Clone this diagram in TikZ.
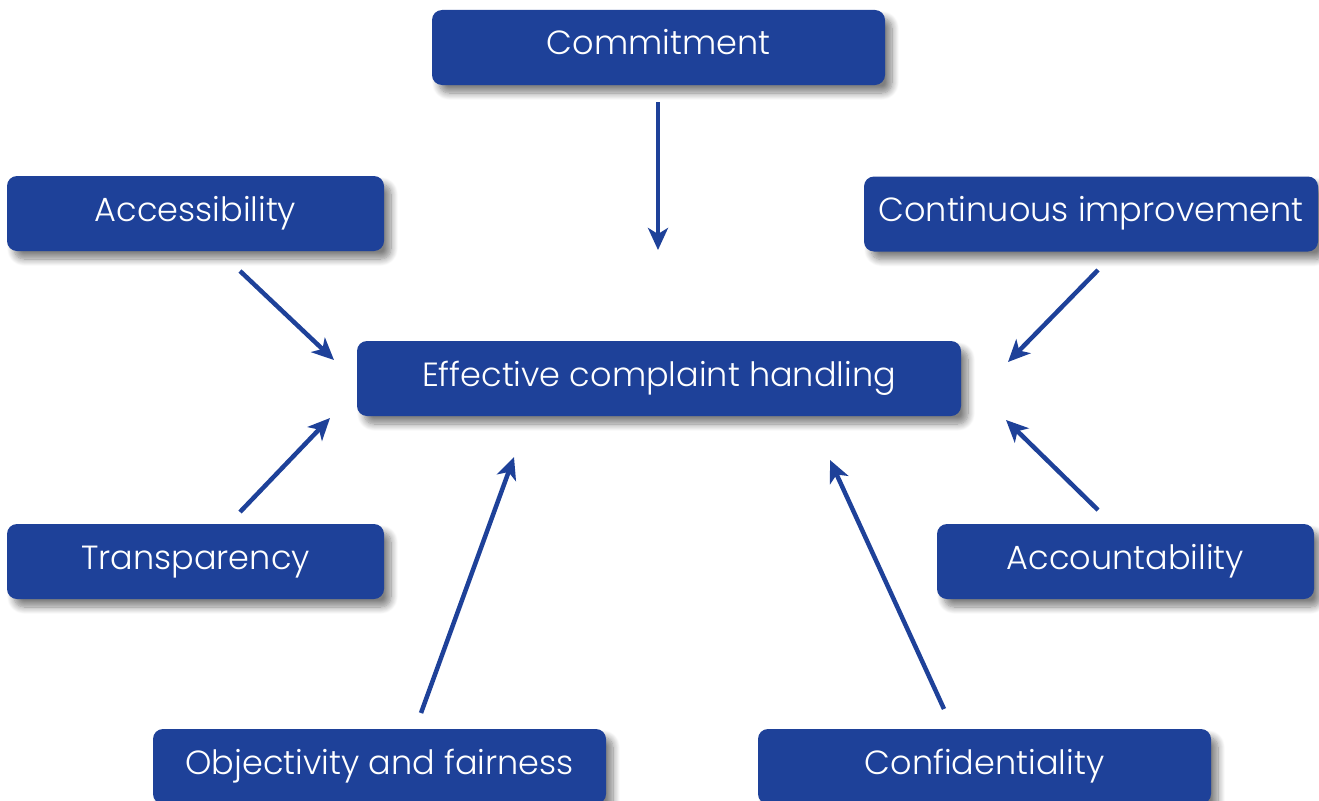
\documentclass[tikz,border=0pt]{standalone}
\usepackage{fontspec}
\setmainfont{Poppins}[UprightFont=* Light]
\usetikzlibrary{arrows.meta,shadows.blur}
\definecolor{boxblue}{HTML}{1E4199}
\tikzset{
  box/.style={fill=boxblue, rounded corners=10pt, text=white, font=\fontsize{33.5}{38}\selectfont,
    minimum height=75pt, anchor=center, inner sep=0pt, text height=24pt, text depth=9pt,
    blur shadow={shadow xshift=7pt, shadow yshift=-8pt, shadow blur steps=10, shadow blur radius=7pt, shadow opacity=50}},
  conn/.style={draw=boxblue, line width=4.5pt, -{Stealth[length=22pt,width=20pt,inset=6pt]}}
}
\begin{document}
\begin{tikzpicture}[x=1pt,y=-1pt]
\useasboundingbox (0,0) rectangle (1319,800);
\node[box, minimum width=453pt] (commit) at (658.5,47.5) {Commitment};
\node[box, minimum width=377pt] (access) at (195.5,213.5) {Accessibility};
\node[box, minimum width=454pt] (contin) at (1091,214) {Continuous improvement};
\node[box, minimum width=604pt] (eff) at (659,378.5) {Effective complaint handling};
\node[box, minimum width=377pt] (transp) at (195.5,561.5) {Transparency};
\node[box, minimum width=377pt] (account) at (1125.5,561.5) {Accountability};
\node[box, minimum width=453pt] (object) at (379.5,766.5) {Objectivity and fairness};
\node[box, minimum width=453pt] (confid) at (984.5,766.5) {Confidentiality};
\coordinate (c1s) at (658,102); \coordinate (c1e) at (658,250);
\coordinate (c2s) at (240,271); \coordinate (c2e) at (334,360);
\coordinate (c3s) at (1098,270); \coordinate (c3e) at (1008,362);
\coordinate (c4s) at (240,512); \coordinate (c4e) at (330,418);
\coordinate (c5s) at (1098,510); \coordinate (c5e) at (1006,420);
\coordinate (c6s) at (421,713); \coordinate (c6e) at (514,457);
\coordinate (c7s) at (944,709); \coordinate (c7e) at (830,460);
\draw[conn] (c1s) -- (c1e);
\draw[conn] (c2s) -- (c2e);
\draw[conn] (c3s) -- (c3e);
\draw[conn] (c4s) -- (c4e);
\draw[conn] (c5s) -- (c5e);
\draw[conn] (c6s) -- (c6e);
\draw[conn] (c7s) -- (c7e);
\end{tikzpicture}
\end{document}
